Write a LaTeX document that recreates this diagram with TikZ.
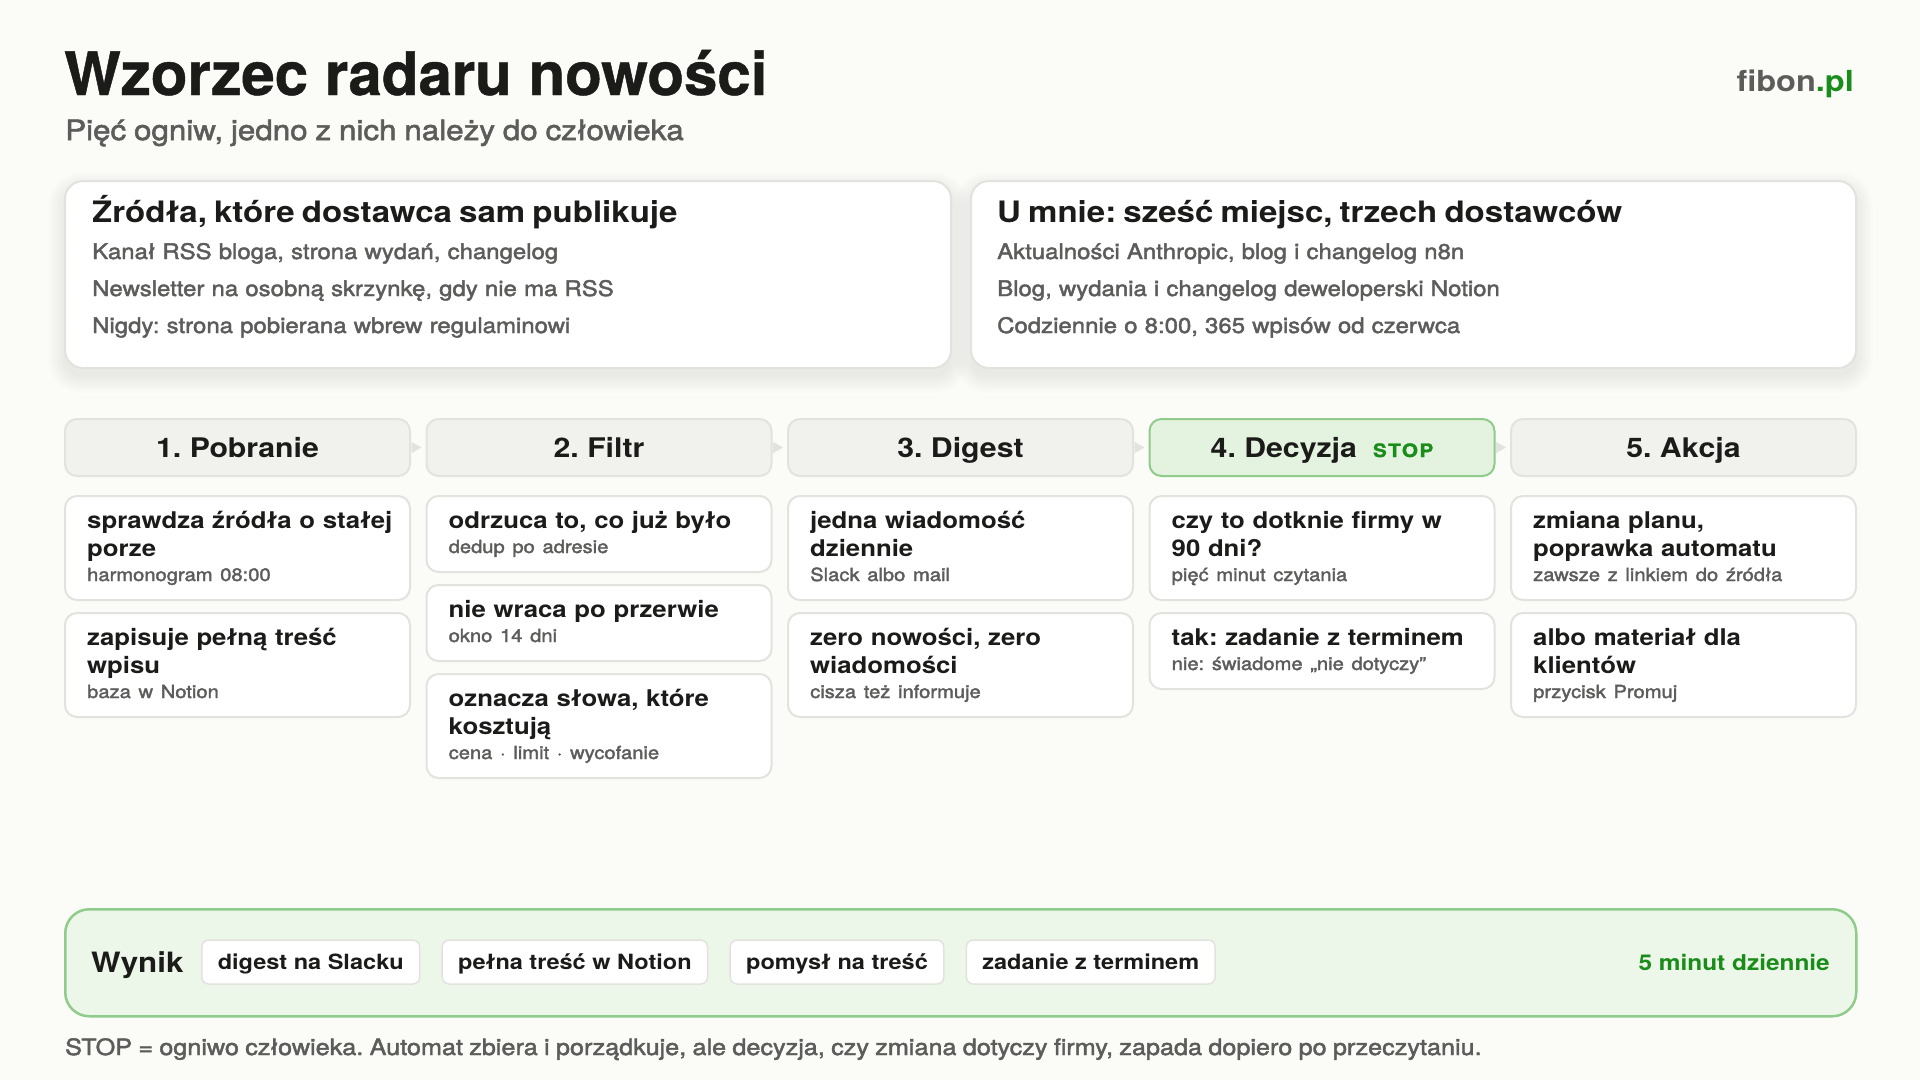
\documentclass[tikz,border=0pt]{standalone}
\usepackage{fontspec}
\setmainfont{TeX Gyre Heros}[FakeStretch=1.12]
\newfontfamily\tytulfont{TeX Gyre Heros}[FakeBold=0.8]
\newfontfamily\medfont{TeX Gyre Heros}[FakeStretch=1.12,FakeBold=2,WordSpace=0.9]
\newfontfamily\stopfont{TeX Gyre Heros}[FakeStretch=1.12,FakeBold=1.5,LetterSpace=8]
\frenchspacing
\usetikzlibrary{positioning,arrows.meta}
\definecolor{tlo}{RGB}{251,252,247}
\definecolor{ink}{RGB}{27,27,25}
\definecolor{szary}{RGB}{92,92,90}
\definecolor{ramka}{RGB}{226,227,222}
\definecolor{etapfill}{RGB}{241,242,237}
\definecolor{zielony}{RGB}{26,140,26}
\definecolor{zielfill}{RGB}{228,243,223}
\definecolor{zielramka}{RGB}{143,203,139}
\definecolor{wynikfill}{RGB}{237,247,233}
\pgfdeclarelayer{background}
\pgfsetlayers{background,main}
\tikzstyle{radar}=[
    panel/.style={draw=ramka, line width=2pt, fill=white, rounded corners=18pt, anchor=north west,
        minimum height=187pt, inner sep=0pt},
    paneltxt/.style={anchor=base west, text width=850pt, align=left, inner sep=0pt, text=szary,
        font=\medfont\fontsize{21.4}{37}\selectfont},
    etap/.style={draw=ramka, line width=2pt, fill=etapfill, rounded corners=12pt, anchor=north west,
        minimum width=345pt, minimum height=57pt, inner sep=0pt, text height=19pt, text depth=0pt,
        text=ink, font=\fontsize{27}{30}\selectfont\bfseries},
    etapstop/.style={etap, draw=zielramka, fill=zielfill},
    strzalka/.style={ramka, line width=1pt, -{Triangle[length=10pt,width=11pt]}, shorten >=4pt},
    karta/.style={draw=ramka, line width=2pt, fill=white, rounded corners=12pt, anchor=north west,
        minimum width=345pt, inner sep=0pt},
    kartatxt/.style={anchor=base west, text width=330pt, align=left, inner sep=0pt, text=ink,
        font=\fontsize{23}{28}\selectfont\bfseries},
    wynikbar/.style={draw=zielramka, line width=2.5pt, fill=wynikfill, rounded corners=24pt,
        anchor=north west, minimum width=1791pt, minimum height=107pt, inner sep=0pt},
    chip/.style={draw=ramka, line width=1.5pt, fill=white, rounded corners=7pt, minimum height=44pt,
        inner xsep=16pt, inner ysep=0pt, text height=15pt, text depth=0pt, text=ink,
        font=\fontsize{21}{24}\selectfont\bfseries},
    napis/.style={inner sep=0pt}
]
\newcommand{\podpis}{\medfont\mdseries\fontsize{18}{25}\selectfont\color{szary}}
\newcommand{\naglowek}{\normalfont\bfseries\fontsize{29.5}{37}\selectfont\color{ink}}
% karta: nazwa, x, y, wysokosc, tytul, podpis
\newcommand{\karta}[6]{
    \node[karta, minimum height=#4] (#1) at (#2,#3) {};
    \node[kartatxt] (#1t) at (#2+23,#3+33) {#5\\[-3pt]{\podpis #6}};
}
% miekki cien pod panelem
\newcommand{\cien}[1]{
    \begin{pgfonlayer}{background}
    \foreach \s in {0,2,...,16}{
        \pgfmathsetmacro{\r}{18+\s}
        \fill[black, opacity=0.008, rounded corners=\r pt]
            ([shift={(-\s,8-\s)}]#1.north west) rectangle ([shift={(\s,8+\s)}]#1.south east);
    }
    \end{pgfonlayer}
}

\begin{document}
\begin{tikzpicture}[radar, x=1pt, y=-1pt]
    \begin{pgfonlayer}{background}
    \fill[tlo] (0,0) rectangle (1920,1080);
    \end{pgfonlayer}
    \useasboundingbox (0,0) rectangle (1920,1080);

    % naglowek
    \node[napis, anchor=base west, text=ink, font=\tytulfont\bfseries\fontsize{60}{66}\selectfont]
        (tytul) at (64,95) {Wzorzec radaru nowości};
    \node[napis, anchor=base west, text=szary, font=\medfont\fontsize{28}{30}\selectfont]
        (podtytul) at (65,140) {Pięć ogniw, jedno z nich należy do człowieka};
    \node[napis, anchor=base east, text=szary, font=\fontsize{29}{30}\selectfont\bfseries]
        (logo) at (1854,91) {fibon{\color{zielony}.pl}};

    % panele
    \node[panel, minimum width=886pt] (zrodla) at (64,180) {};
    \node[panel, minimum width=885pt] (umnie) at (970,180) {};
    \cien{zrodla}
    \cien{umnie}
    \node[paneltxt] (zrodlat) at (92,222) {{\naglowek Źródła, które dostawca sam publikuje}\\
        Kanał RSS bloga, strona wydań, changelog\\
        Newsletter na osobną skrzynkę, gdy nie ma RSS\\
        Nigdy: strona pobierana wbrew regulaminowi};
    \node[paneltxt] (umniet) at (997,222) {{\naglowek U mnie: sześć miejsc, trzech dostawców}\\
        Aktualności Anthropic, blog i changelog n8n\\
        Blog, wydania i changelog deweloperski Notion\\
        Codziennie o 8:00, 365 wpisów od czerwca};

    % etapy
    \foreach \i/\x/\tyt in {1/64/{1. Pobranie}, 2/425.5/{2. Filtr}, 3/787/{3. Digest}, 5/1510/{5. Akcja}}
        \node[etap] (e\i) at (\x,418) {\tyt};
    \node[etapstop] (e4) at (1148.5,418) {4. Decyzja\hspace{16pt}{\stopfont\bfseries\fontsize{18.5}{20}\selectfont\color{zielony}STOP}};
    \foreach \a/\b in {1/2,2/3,3/4,4/5}
        \draw[strzalka] (e\a) -- (e\b);

    % karty
    \foreach \n/\x/\y/\h/\tyt/\pod in {
        k11/64/495/104/{sprawdza źródła o stałej\\porze}/{harmonogram 08:00},
        k12/64/612/104/{zapisuje pełną treść\\wpisu}/{baza w Notion},
        k21/425.5/495/76/{odrzuca to, co już było}/{dedup po adresie},
        k22/425.5/584/76/{nie wraca po przerwie}/{okno 14 dni},
        k23/425.5/673/104/{oznacza słowa, które\\kosztują}/{cena · limit · wycofanie},
        k31/787/495/104/{jedna wiadomość\\dziennie}/{Slack albo mail},
        k32/787/612/104/{zero nowości, zero\\wiadomości}/{cisza też informuje},
        k41/1148.5/495/104/{czy to dotknie firmy w\\90 dni?}/{pięć minut czytania},
        k42/1148.5/612/76/{tak: zadanie z terminem}/{nie: świadome „nie dotyczy”},
        k51/1510/495/104/{zmiana planu,\\poprawka automatu}/{zawsze z linkiem do źródła},
        k52/1510/612/104/{albo materiał dla\\klientów}/{przycisk Promuj}}
        {\karta{\n}{\x}{\y}{\h}{\tyt}{\pod}}

    % wynik
    \node[wynikbar] (wynikbar) at (64,908) {};
    \node[napis, anchor=base west, text=ink, font=\fontsize{28}{30}\selectfont\bfseries]
        (wynik) at (91,972) {Wynik};
    \node[chip, anchor=west] (c1) at (201,962) {digest na Slacku};
    \foreach \i/\p/\tyt in {2/1/{pełna treść w Notion}, 3/2/{pomysł na treść}, 4/3/{zadanie z terminem}}
        \node[chip, right=21pt of c\p] (c\i) {\tyt};
    \node[napis, anchor=base east, text=zielony, font=\fontsize{21.8}{24}\selectfont\bfseries]
        (minuty) at (1830,970) {5 minut dziennie};

    \node[napis, anchor=base west, text=szary, font=\medfont\fontsize{22.5}{26}\selectfont] (stopka) at (65,1055)
        {STOP = ogniwo człowieka. Automat zbiera i porządkuje, ale decyzja, czy zmiana dotyczy firmy, zapada dopiero po przeczytaniu.};
\end{tikzpicture}
\end{document}
